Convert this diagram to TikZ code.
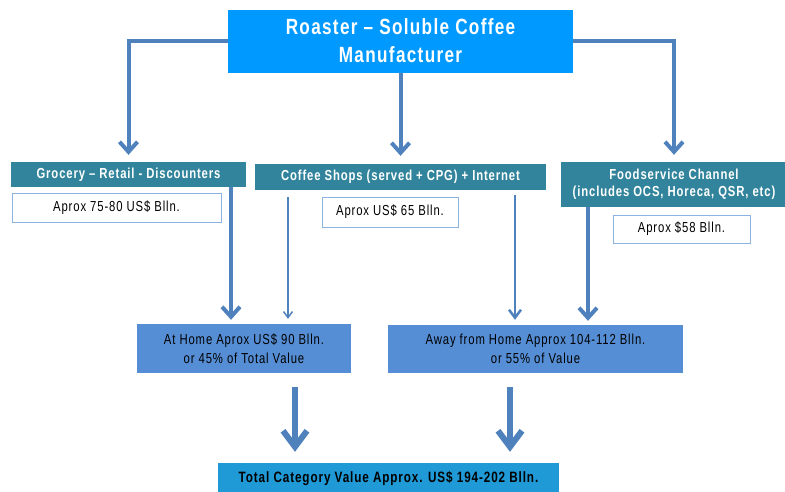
\documentclass[tikz,border=0pt]{standalone}
\usepackage{fontspec}
\setmainfont{Liberation Sans}
\newfontfamily\nf[FakeStretch=0.78,LetterSpace=6]{Liberation Sans}
\usetikzlibrary{arrows.meta,calc}
\definecolor{topblue}{HTML}{0099FF}
\definecolor{teal}{HTML}{31849B}
\definecolor{midblue}{HTML}{558ED5}
\definecolor{totblue}{HTML}{1F9AD6}
\definecolor{arr}{HTML}{4F81BD}
\definecolor{lightbd}{HTML}{8DB3E2}
\tikzset{
  box/.style={rectangle,inner sep=0pt,align=center,font=\nf},
  topbox/.style={box,fill=topblue,text=white,font=\nf\bfseries\fontsize{22}{28}\selectfont},
  chbox/.style={box,fill=teal,text=white,font=\nf\bfseries\fontsize{14.5}{17}\selectfont},
  valbox/.style={box,fill=white,draw=lightbd,line width=1pt,font=\nf\fontsize{14.5}{18}\selectfont},
  sumbox/.style={box,fill=midblue,text=black,font=\nf\fontsize{14.5}{19}\selectfont},
  totbox/.style={box,fill=totblue,text=black,font=\nf\bfseries\fontsize{15}{19}\selectfont},
  conn/.style={draw=arr,line width=4pt,-{Straight Barb[length=10pt,width=18pt]}},
  thinconn/.style={draw=arr,line width=1.5pt,-{Straight Barb[length=6pt,width=9pt]}},
  medconn/.style={draw=arr,line width=2.5pt,-{Straight Barb[length=8pt,width=12pt]}},
  bigconn/.style={draw=arr,line width=6pt,-{Straight Barb[length=16pt,width=24pt]}},
}
\begin{document}
\begin{tikzpicture}[x=1pt,y=-1pt]
\useasboundingbox (0,0) rectangle (785,491);
\node[topbox,minimum width=345pt,minimum height=63pt] (top) at (400.5,41) {Roaster \textendash{} Soluble Coffee\\Manufacturer};
\node[chbox,minimum width=235pt,minimum height=25pt] (groc) at (128.5,174.5) {Grocery \textendash{} Retail - Discounters};
\node[valbox,minimum width=209pt,minimum height=29pt] (v1) at (116.5,207.5) {Aprox 75-80 US\$ Blln.};
\node[chbox,minimum width=291pt,minimum height=26pt] (cof) at (400.5,177) {Coffee Shops (served + CPG) + Internet};
\node[valbox,minimum width=136pt,minimum height=30pt] (v2) at (390,212) {Aprox US\$ 65 Blln.};
\node[chbox,minimum width=226pt,minimum height=45pt] (food) at (674,184.5) {Foodservice Channel\\(includes OCS, Horeca, QSR, etc)};
\node[valbox,minimum width=137pt,minimum height=28pt] (v3) at (681.5,229) {Aprox \$58 Blln.};
\node[sumbox,minimum width=214pt,minimum height=49pt] (home) at (244,348.5) {At Home Aprox US\$ 90 Blln.\\or 45\% of Total Value};
\node[sumbox,minimum width=295pt,minimum height=48pt] (away) at (535.5,349) {Away from Home Approx 104-112 Blln.\\or 55\% of Value};
\node[totbox,minimum width=341pt,minimum height=32pt] (tot) at (388.5,479) {Total Category Value Approx. US\$ 194-202 Blln.};
\coordinate (c1) at (231,0);
\coordinate (c2) at (288,0);
\coordinate (c3) at (515,0);
\coordinate (c4) at (588,0);
\coordinate (c5) at (295,0);
\coordinate (c6) at (510,0);
\draw[conn,shorten >=7pt] (top.west) -| (groc.north);
\draw[conn,shorten >=8pt] (top.south) -- (cof.north);
\draw[conn,shorten >=7pt] (top.east) -| (food.north);
\draw[conn,shorten >=4pt] (groc.south -| c1) -- (home.north -| c1);
\draw[thinconn,shorten <=7pt,shorten >=5pt] (cof.south -| c2) -- (home.north -| c2);
\draw[medconn,shorten <=5pt,shorten >=5pt] (cof.south -| c3) -- (away.north -| c3);
\draw[conn,shorten >=4pt] (food.south -| c4) -- (away.north -| c4);
\draw[bigconn,shorten <=14pt,shorten >=11pt] (home.south -| c5) -- (tot.north -| c5);
\draw[bigconn,shorten <=14pt,shorten >=11pt] (away.south -| c6) -- (tot.north -| c6);
\end{tikzpicture}
\end{document}
